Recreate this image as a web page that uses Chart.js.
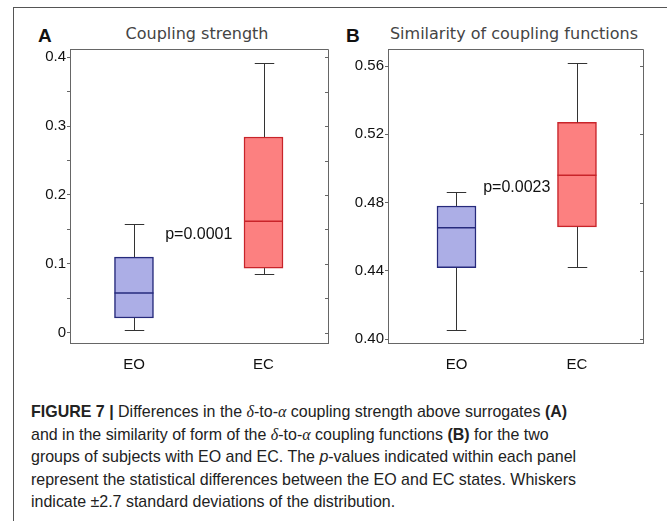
<!DOCTYPE html>
<html>
<head>
<meta charset="utf-8">
<script src="https://cdn.jsdelivr.net/npm/chart.js@4"></script>
<style>
  html, body { margin: 0; padding: 0; background: #fff; }
  body { width: 667px; height: 521px; position: relative; overflow: hidden; }
  .frame-top { position: absolute; left: 14px; top: 7px; width: 653px; height: 0; border-top: 1.5px solid #555; }
  .frame-left { position: absolute; left: 13px; top: 7px; width: 0; height: 514px; border-left: 1.5px solid #555; }
  .panel-letter { position: absolute; font: bold 19px "Liberation Sans", Arial, sans-serif; color: #111; }
  .panel-title { position: absolute; font: 16px "DejaVu Sans", sans-serif; color: #444; white-space: nowrap; transform: translateX(-50%); }
  canvas { position: absolute; }
  .caption { position: absolute; left: 31px; top: 401px; width: 680px; font: 17px "Liberation Sans", sans-serif; color: #222; line-height: 22.5px; transform: scaleX(0.94); transform-origin: 0 0; white-space: nowrap; }
  .caption .m { font-family: "Liberation Serif", serif; font-style: italic; }
</style>
</head>
<body>
<div class="frame-top"></div>
<div class="frame-left"></div>

<div class="panel-letter" style="left:38px; top:25px;">A</div>
<div class="panel-title" style="left:197px; top:24px;">Coupling strength</div>
<div class="panel-letter" style="left:346px; top:25px;">B</div>
<div class="panel-title" style="left:514px; top:24px;">Similarity of coupling functions</div>

<canvas id="strengthChart" style="left:0; top:39px;"></canvas>
<canvas id="similarityChart" style="left:330px; top:39px;"></canvas>

<div class="caption">
  <b>FIGURE 7 |</b> Differences in the <span class="m">δ</span>-to-<span class="m">α</span> coupling strength above surrogates <b>(A)</b><br>
  and in the similarity of form of the <span class="m">δ</span>-to-<span class="m">α</span> coupling functions <b>(B)</b> for the two<br>
  groups of subjects with EO and EC. The <i>p</i>-values indicated within each panel<br>
  represent the statistical differences between the EO and EC states. Whiskers<br>
  indicate ±2.7 standard deviations of the distribution.
</div>

<script>
const groups = ['EO', 'EC'];

// coupling strength: whisker ends, quartiles, medians
const strengthLow  = [0.0043, 0.0855];
const strengthQ1   = [0.0217, 0.094];
const strengthMed  = [0.058, 0.162];
const strengthQ3   = [0.110, 0.284];
const strengthHigh = [0.158, 0.391];
const strengthP = 'p=0.0001';
const strengthTicks = [0, 0.05, 0.1, 0.15, 0.2, 0.25, 0.3, 0.35, 0.4];
const strengthTickLabels = ['0', '', '0.1', '', '0.2', '', '0.3', '', '0.4'];

// similarity of coupling functions
const similarityLow  = [0.4053, 0.4423];
const similarityQ1   = [0.4418, 0.4658];
const similarityMed  = [0.4653, 0.496];
const similarityQ3   = [0.478, 0.527];
const similarityHigh = [0.4864, 0.5618];
const similarityP = 'p=0.0023';
const similarityTicks = [0.40, 0.44, 0.48, 0.52, 0.56];
const similarityTickLabels = ['0.40', '0.44', '0.48', '0.52', '0.56'];

const fills = ['#acaee6', '#fc8080'];
const edges = ['#262a7c', '#c8242a'];
const axisColor = '#666';

Chart.defaults.font.family = '"Liberation Sans", Arial, sans-serif';
Chart.defaults.font.size = 15;
Chart.defaults.color = '#111';

// whiskers, medians, top/right frame and the p-value label
function boxPlugin(low, med, high, pText, pAt) {
  return {
    id: 'boxExtras',
    afterDatasetsDraw(chart) {
      const ctx = chart.ctx;
      const x = chart.scales.x, y = chart.scales.y;
      const area = chart.chartArea;
      const bars = chart.getDatasetMeta(0).data;
      ctx.save();
      bars.forEach((bar, i) => {
        const cx = Math.round(bar.x) + 0.5;
        const half = bar.width / 2;
        const top = bar.base < bar.y ? bar.base : bar.y;
        const bottom = bar.base < bar.y ? bar.y : bar.base;
        const yHi = Math.round(y.getPixelForValue(high[i])) + 0.5;
        const yLo = Math.round(y.getPixelForValue(low[i])) + 0.5;
        ctx.strokeStyle = '#333';
        ctx.lineWidth = 1;
        ctx.beginPath();
        ctx.moveTo(cx, top); ctx.lineTo(cx, yHi);
        ctx.moveTo(cx - half / 2, yHi); ctx.lineTo(cx + half / 2, yHi);
        ctx.moveTo(cx, bottom); ctx.lineTo(cx, yLo);
        ctx.moveTo(cx - half / 2, yLo); ctx.lineTo(cx + half / 2, yLo);
        ctx.stroke();
        const ym = y.getPixelForValue(med[i]);
        ctx.strokeStyle = edges[i];
        ctx.lineWidth = 1.5;
        ctx.beginPath();
        ctx.moveTo(bar.x - half, ym); ctx.lineTo(bar.x + half, ym);
        ctx.stroke();
      });

      // frame on the top and right, inner ticks on the right
      ctx.strokeStyle = axisColor;
      ctx.lineWidth = 1;
      ctx.beginPath();
      ctx.moveTo(area.left, area.top + 0.5); ctx.lineTo(area.right + 0.5, area.top + 0.5);
      ctx.lineTo(area.right + 0.5, area.bottom);
      y.ticks.forEach(t => {
        const py = Math.round(y.getPixelForValue(t.value)) + 0.5;
        ctx.moveTo(area.right, py); ctx.lineTo(area.right - 3, py);
      });
      ctx.stroke();

      ctx.fillStyle = '#111';
      ctx.font = '16px "Liberation Sans", Arial, sans-serif';
      ctx.textAlign = 'center';
      ctx.textBaseline = 'middle';
      ctx.fillText(pText, x.getPixelForValue(pAt[0]), y.getPixelForValue(pAt[1]));
      ctx.restore();
    }
  };
}

function makeBoxChart(id, size, q1, q3, low, med, high, pText, pAt, yMin, yMax, xMin, xMax, yTicks, yLabels, yWidth, padRight) {
  const canvas = document.getElementById(id);
  canvas.width = size[0];
  canvas.height = size[1];
  return new Chart(canvas.getContext('2d'), {
    type: 'bar',
    data: {
      datasets: [{
        data: groups.map((g, i) => ({ x: i + 1, y: [q1[i], q3[i]] })),
        backgroundColor: fills,
        borderColor: edges,
        borderWidth: 1.5,
        borderSkipped: false,
        barThickness: 39
      }]
    },
    options: {
      responsive: false,
      animation: false,
      events: [],
      layout: { padding: { top: 10, right: padRight, left: 0, bottom: 0 } },
      plugins: { legend: { display: false }, tooltip: { enabled: false } },
      scales: {
        x: {
          type: 'linear',
          min: xMin,
          max: xMax,
          offset: false,
          afterBuildTicks: axis => { axis.ticks = groups.map((g, i) => ({ value: i + 1 })); },
          afterFit: axis => { axis.height = 27; },
          grid: { display: false, offset: false },
          border: { display: true, color: axisColor, width: 1 },
          ticks: {
            autoSkip: false,
            padding: 5,
            color: '#111',
            font: { size: 15 },
            callback: v => groups[v - 1] || ''
          }
        },
        y: {
          type: 'linear',
          min: yMin,
          max: yMax,
          afterBuildTicks: axis => { axis.ticks = yTicks.map(v => ({ value: v })); },
          afterFit: axis => { axis.width = yWidth; },
          grid: { display: true, drawOnChartArea: false, drawTicks: true, tickLength: 3, color: axisColor },
          border: { display: true, color: axisColor, width: 1 },
          ticks: {
            autoSkip: false,
            padding: 1,
            color: '#111',
            font: { size: 15 },
            callback: (v, i) => yLabels[i]
          }
        }
      }
    },
    plugins: [boxPlugin(low, med, high, pText, pAt)]
  });
}

makeBoxChart('strengthChart', [340, 331],
  strengthQ1, strengthQ3, strengthLow, strengthMed, strengthHigh,
  strengthP, [1.5, 0.142],
  -0.0145, 0.4116, 0.506, 2.498,
  strengthTicks, strengthTickLabels, 70, 12);

makeBoxChart('similarityChart', [337, 331],
  similarityQ1, similarityQ3, similarityLow, similarityMed, similarityHigh,
  similarityP, [1.5, 0.4888],
  0.3977, 0.570, 0.4315, 2.548,
  similarityTicks, similarityTickLabels, 58, 24);
</script>
</body>
</html>
